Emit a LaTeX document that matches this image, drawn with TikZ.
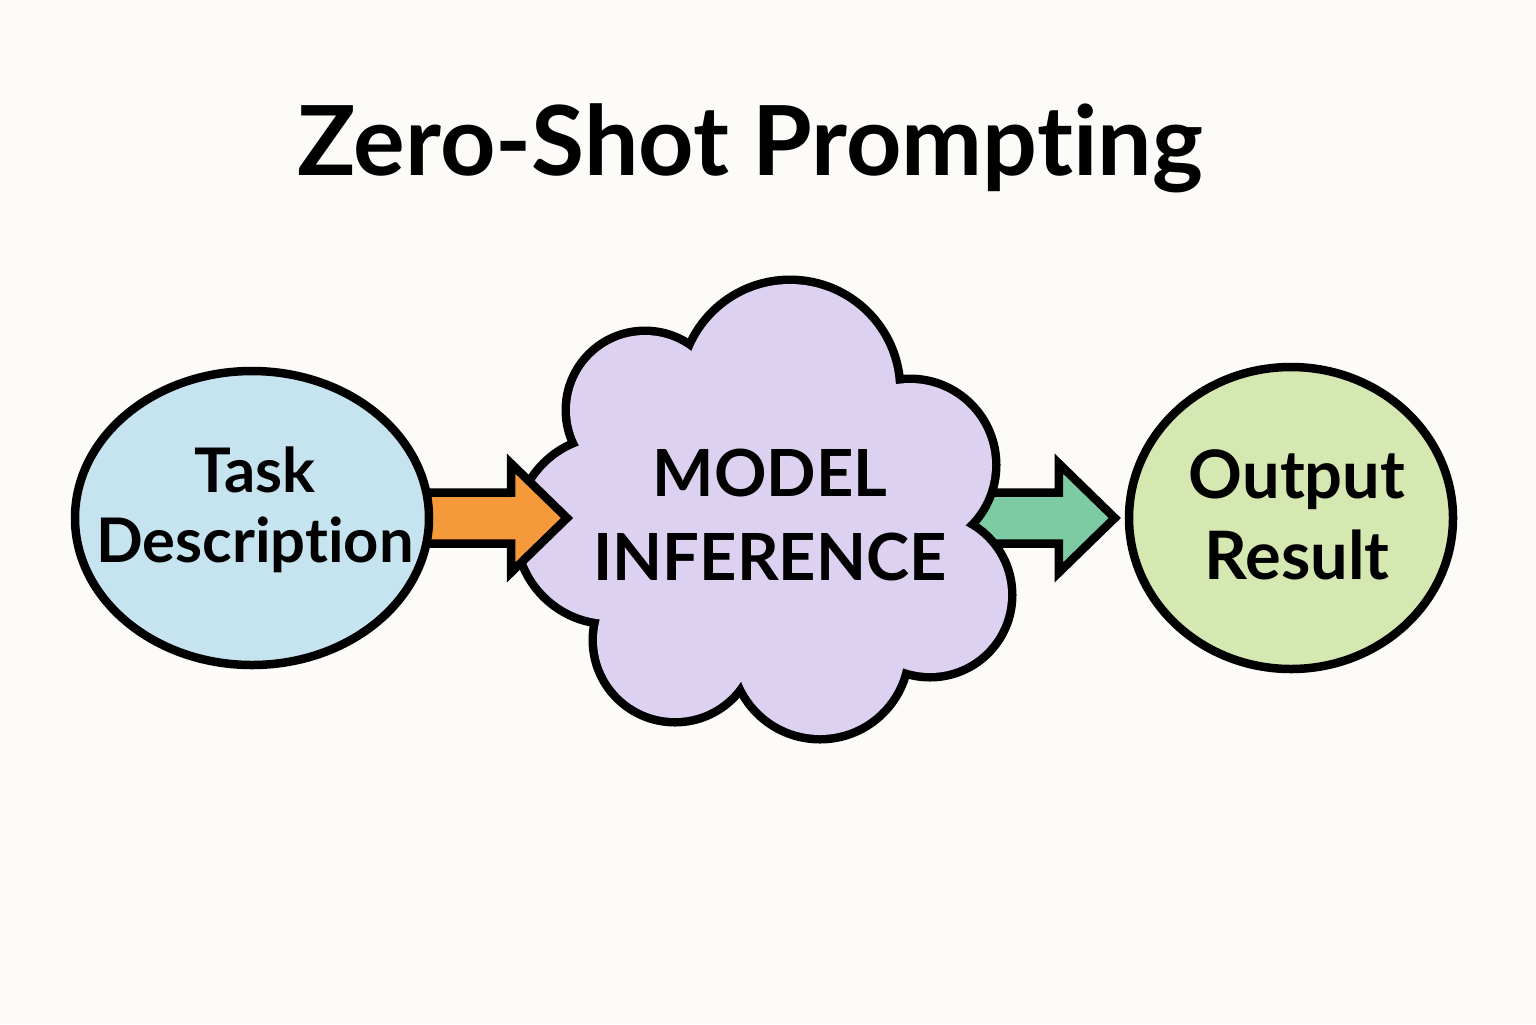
\documentclass[tikz,border=0pt]{standalone}
\usepackage{fontspec}
\setmainfont{Lato}[Ligatures=NoCommon]
\usetikzlibrary{shapes.geometric, calc}

\definecolor{paper}{HTML}{FCFBF7}
\definecolor{taskblue}{HTML}{C6E3F0}
\definecolor{modellilac}{HTML}{DCD1F1}
\definecolor{resultgreen}{HTML}{D5E8B1}
\definecolor{arroworange}{HTML}{F59A3A}
\definecolor{arrowgreen}{HTML}{7DCBA2}

\pgfdeclarelayer{paperlayer}
\pgfdeclarelayer{lower}
\pgfdeclarelayer{cloudlayer}
\pgfdeclarelayer{upper}
\pgfsetlayers{paperlayer,lower,cloudlayer,upper,main}

\begin{document}
\begin{tikzpicture}[>=stealth]
% --- Global Styles ---
\tikzstyle{outline} = [draw=black, line width=0.085cm]
\tikzstyle{bubble} = [outline, ellipse, inner sep=0pt]
\tikzstyle{label} = [align=center, font=\bfseries]
\tikzstyle{fatarrow} = [outline, line join=miter]

% --- Arrow geometry ---
\def\arrshaft{0.255}   % half shaft width
\def\arrhead{0.545}    % half head width
\def\arrlen{0.56}      % head length
\def\ymid{-5.18}       % common centre line

\useasboundingbox (0,0) rectangle (15.36,-10.24);
\begin{pgfonlayer}{paperlayer}
\fill[paper] (0,0) rectangle (15.36,-10.24);
\end{pgfonlayer}

% ==========================================
% TITLE
% ==========================================
\node[font=\fontsize{27.5}{28}\selectfont\bfseries, anchor=base] (title) at (7.5,-1.75) {Zero-Shot Prompting};

% ==========================================
% NODES
% ==========================================
\node[bubble, fill=taskblue, minimum width=3.54cm, minimum height=2.94cm] (task) at (2.52,\ymid) {};
\node[bubble, fill=resultgreen, minimum width=3.24cm, minimum height=3.02cm] (output) at (12.91,\ymid) {};

\node[label, font=\fontsize{17.5}{20}\selectfont\bfseries] (tasktext) at (2.55,-5.10) {Task\\Description};
\node[label, font=\fontsize{18.5}{24}\selectfont\bfseries] (model) at (7.70,-5.15) {MODEL\\INFERENCE};
\node[label, font=\fontsize{19}{23}\selectfont\bfseries] (outputtext) at (12.97,-5.15) {Output\\Result};

% Arrow ends on the cloud rim
\coordinate (cloudin) at (5.67,\ymid);
\coordinate (cloudout) at (9.50,\ymid);
\coordinate (outtip) at ($(output.west)+(-0.10,0)$);

% ==========================================
% CLOUD: union of puffs
% ==========================================
\begin{pgfonlayer}{cloudlayer}
\foreach \cx/\cy/\r in {6.45/-4.10/0.75, 7.90/-3.90/1.06, 9.10/-4.65/0.82, 9.30/-5.95/0.78,
                        8.20/-6.50/0.85, 6.75/-6.40/0.78, 6.10/-5.30/0.90}
  \draw[line width=0.17cm] (\cx,\cy) circle (\r);
\foreach \cx/\cy/\r in {6.45/-4.10/0.75, 7.90/-3.90/1.06, 9.10/-4.65/0.82, 9.30/-5.95/0.78,
                        8.20/-6.50/0.85, 6.75/-6.40/0.78, 6.10/-5.30/0.90}
  \fill[modellilac] (\cx,\cy) circle (\r);
\fill[modellilac] (6.45,-4.10) -- (7.90,-3.90) -- (9.10,-4.65) -- (9.30,-5.95)
  -- (8.20,-6.50) -- (6.75,-6.40) -- (6.10,-5.30) -- cycle;
\end{pgfonlayer}

% ==========================================
% ARROWS
% ==========================================
% Task -> cloud (over the cloud)
\begin{pgfonlayer}{upper}
\draw[fatarrow, fill=arroworange]
  ($(task.east)+(-0.1,\arrshaft)$) -- ($(cloudin)+(-\arrlen,\arrshaft)$) -- ($(cloudin)+(-\arrlen,\arrhead)$)
  -- (cloudin) -- ($(cloudin)+(-\arrlen,-\arrhead)$) -- ($(cloudin)+(-\arrlen,-\arrshaft)$)
  -- ($(task.east)+(-0.1,-\arrshaft)$) -- cycle;
\end{pgfonlayer}

% Cloud -> output (under the cloud)
\begin{pgfonlayer}{lower}
\draw[fatarrow, fill=arrowgreen]
  ($(cloudout)+(0,\arrshaft)$) -- ($(outtip)+(-\arrlen,\arrshaft)$) -- ($(outtip)+(-\arrlen,\arrhead)$)
  -- (outtip) -- ($(outtip)+(-\arrlen,-\arrhead)$) -- ($(outtip)+(-\arrlen,-\arrshaft)$)
  -- ($(cloudout)+(0,-\arrshaft)$) -- cycle;
\end{pgfonlayer}

\end{tikzpicture}
\end{document}
